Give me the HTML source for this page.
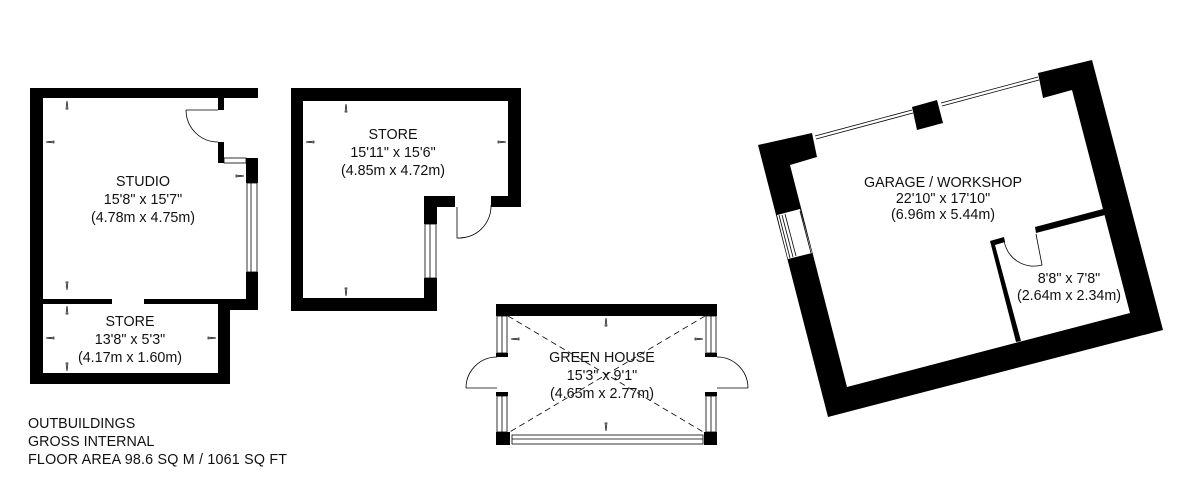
<!DOCTYPE html>
<html><head><meta charset="utf-8"><style>
html,body{margin:0;padding:0;background:#fff;}
svg{display:block;}
text{font-family:"Liberation Sans",sans-serif;font-size:14.3px;fill:#111;}
</style></head><body>
<svg width="1200" height="486" viewBox="0 0 1200 486" xmlns="http://www.w3.org/2000/svg">
<!-- STUDIO + STORE -->
<g fill="#000">
<rect x="30" y="88" width="228" height="10"/>
<rect x="30" y="88" width="13" height="296"/>
<rect x="30" y="373" width="200" height="11"/>
<rect x="218" y="98" width="6" height="12"/>
<rect x="218" y="142" width="6" height="21"/>
<rect x="246" y="158" width="12" height="25"/>
<rect x="246" y="272" width="12" height="38"/>
<rect x="218" y="304" width="40" height="6"/>
<rect x="218" y="304" width="12" height="80"/>
<rect x="43" y="299" width="69" height="5"/>
<rect x="144" y="299" width="102" height="5"/>
</g>
<g fill="none" stroke="#000" stroke-width="0.8">
<rect x="224" y="158" width="22" height="5"/>
<rect x="247" y="183" width="10" height="89"/>
<line x1="251" y1="183" x2="251" y2="272"/>
<path d="M186,110 L218,110 M186,110 A32,32 0 0 0 218,142"/>
</g>
<text x="143" y="186" text-anchor="middle">STUDIO</text>
<text x="143" y="204" text-anchor="middle">15'8" x 15'7"</text>
<text x="143" y="222" text-anchor="middle">(4.78m x 4.75m)</text>
<text x="130" y="326" text-anchor="middle">STORE</text>
<text x="130" y="344" text-anchor="middle">13'8" x 5'3"</text>
<text x="130" y="362" text-anchor="middle">(4.17m x 1.60m)</text>

<!-- STORE middle -->
<g fill="#000">
<rect x="291" y="88" width="230" height="13"/>
<rect x="291" y="88" width="12" height="223"/>
<rect x="508" y="88" width="13" height="119"/>
<rect x="491" y="196" width="30" height="11"/>
<rect x="424" y="196" width="31" height="11"/>
<rect x="424" y="196" width="13" height="28"/>
<rect x="424" y="278" width="13" height="33"/>
<rect x="291" y="298" width="146" height="13"/>
</g>
<g fill="none" stroke="#000" stroke-width="0.8">
<rect x="425" y="224" width="11" height="54"/>
<line x1="430" y1="224" x2="430" y2="278"/>
<path d="M457,207 L457,238 A32,32 0 0 0 491,205"/>
</g>
<text x="393" y="139" text-anchor="middle">STORE</text>
<text x="393" y="157" text-anchor="middle">15'11" x 15'6"</text>
<text x="393" y="175" text-anchor="middle">(4.85m x 4.72m)</text>

<!-- GREEN HOUSE -->
<g fill="#000">
<rect x="496" y="304" width="221" height="12"/>
<rect x="496" y="432" width="14" height="13"/>
<rect x="704" y="432" width="13" height="13"/>
<rect x="496" y="353" width="12" height="4"/>
<rect x="705" y="353" width="12" height="4"/>
<rect x="496" y="392" width="12" height="4"/>
<rect x="705" y="392" width="12" height="4"/>
</g>
<g fill="none" stroke="#000" stroke-width="0.8">
<rect x="497" y="316" width="10" height="37"/><line x1="502" y1="316" x2="502" y2="353"/>
<rect x="706" y="316" width="10" height="37"/><line x1="711" y1="316" x2="711" y2="353"/>
<rect x="497" y="396" width="10" height="36"/><line x1="502" y1="396" x2="502" y2="432"/>
<rect x="706" y="396" width="10" height="36"/><line x1="711" y1="396" x2="711" y2="432"/>
<rect x="512" y="435" width="191" height="9"/><line x1="512" y1="439" x2="703" y2="439"/>
<path d="M466,388 L497,388 M466,388 A31,31 0 0 1 497,357"/>
<path d="M748,388 L717,388 M748,388 A31,31 0 0 0 717,357"/>
<path d="M508,316 L705,433 M705,316 L508,433" stroke-dasharray="6,4"/>
</g>
<text x="602" y="362" text-anchor="middle">GREEN HOUSE</text>
<text x="602" y="380" text-anchor="middle">15'3" x 9'1"</text>
<text x="602" y="398" text-anchor="middle">(4.65m x 2.77m)</text>

<!-- GARAGE -->
<polygon fill="#000" points="758,145 828,417 1163,330 1092,60 1038,73 1043,98 1072,90 1130,313 847,387 790,165 817,157 812,133"/>
<polygon fill="#fff" points="777,215 800,209 812,253 788,259"/>
<g fill="none" stroke="#000" stroke-width="0.8">
<line x1="779" y1="215" x2="790" y2="258"/><line x1="782" y1="215" x2="793" y2="257"/><line x1="785" y1="214" x2="796" y2="256"/>
<line x1="800" y1="211" x2="811" y2="253"/>
<line x1="815" y1="136" x2="912" y2="110"/><line x1="816" y1="139" x2="913" y2="113"/>
<line x1="941" y1="103" x2="1038" y2="77"/><line x1="942" y1="106" x2="1039" y2="80"/>
<path d="M1036,234 L1042,265 A30,30 0 0 1 1004,240"/>
</g>
<polygon fill="#000" points="912,107 937,100 943,123 917,130"/>
<polygon fill="#000" points="990,241 1004,237 1005,242 995,245 1021,341 1016,342"/>
<polygon fill="#000" points="1035,227 1103,209 1105,215 1036,233"/>
<text x="943" y="187" text-anchor="middle">GARAGE / WORKSHOP</text>
<text x="943" y="203" text-anchor="middle">22'10" x 17'10"</text>
<text x="943" y="219" text-anchor="middle">(6.96m x 5.44m)</text>
<text x="1069" y="283" text-anchor="middle">8'8" x 7'8"</text>
<text x="1069" y="300" text-anchor="middle">(2.64m x 2.34m)</text>

<!-- markers -->
<g fill="none" stroke="#000" stroke-width="0.7">
<path d="M67,101 l-1,8 h2 z M67,290 l-1,-8 h2 z M67,306 l-1,8 h2 z M67,371 l-1,-8 h2 z M46,142 l8,-1 v2 z M46,338 l8,-1 v2 z M216,338 l-8,-1 v2 z M244,176 l-8,-1 v2 z M346,104 l-1,8 h2 z M346,296 l-1,-8 h2 z M306,142 l8,-1 v2 z M506,142 l-8,-1 v2 z M606,318 l-1,8 h2 z M606,431 l-1,-8 h2 z M511,339 l8,-1 v2 z M703,339 l-8,-1 v2 z"/>
</g>

<text x="28" y="428">OUTBUILDINGS</text>
<text x="28" y="446">GROSS INTERNAL</text>
<text x="28" y="464" textLength="259">FLOOR AREA 98.6 SQ M / 1061 SQ FT</text>
</svg>
</body></html>
